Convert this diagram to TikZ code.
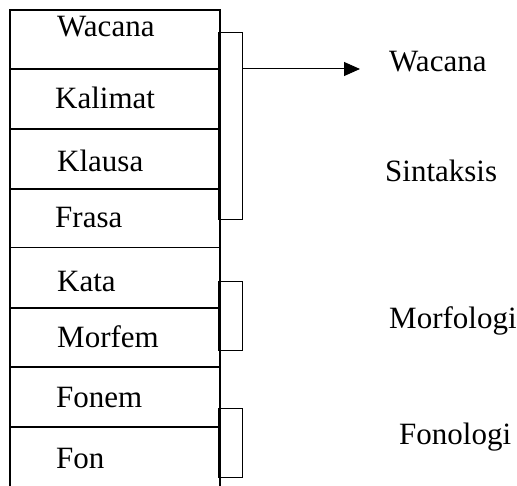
\documentclass[tikz,border=0pt]{standalone}
\usepackage{fontspec}
\setmainfont{Liberation Serif}
\usetikzlibrary{arrows.meta}
\begin{document}
\begin{tikzpicture}[x=1pt,y=-1pt,
  lbl/.style={anchor=base west,inner sep=0pt,font=\fontsize{31}{37}\selectfont},
  brk/.style={draw,line width=1.4pt,inner sep=0pt,minimum width=24pt,anchor=north west},
  frame/.style={line width=2.2pt}]
\useasboundingbox (0,0) rectangle (517,486);
% frame of the column
\coordinate (tl) at (10,10);
\coordinate (tr) at (220,10);
\coordinate (bl) at (10,486);
\coordinate (br) at (220,486);
\draw[frame] (bl) -- (tl) -- (tr) -- (br);
% dividers
\foreach \y/\w in {69/1.8pt,129/1.8pt,189/1.8pt,248/1pt,308/1.8pt,367/1.8pt,427/1.8pt}
  \draw[line width=\w] (10,\y) -- (220,\y);
% brackets
\node[brk,minimum height=187pt] (b1) at (218,32) {};
\node[brk,minimum height=69pt] (b2) at (218,281) {};
\node[brk,minimum height=69pt] (b3) at (218,408) {};
% left labels
\node[lbl] (wacana) at (57,37) {Wacana};
\node[lbl] (kalimat) at (55,109) {Kalimat};
\node[lbl] (klausa) at (57,172) {Klausa};
\node[lbl] (frasa) at (55,228) {Frasa};
\node[lbl] (kata) at (57,292) {Kata};
\node[lbl] (morfem) at (57,348) {Morfem};
\node[lbl] (fonem) at (56,407) {Fonem};
\node[lbl] (fon) at (56,468) {Fon};
% right labels
\node[lbl] (rwacana) at (389,72) {Wacana};
\node[lbl] (sintaksis) at (385,182) {Sintaksis};
\node[lbl] (morfologi) at (389,329) {Morfologi};
\node[lbl] (fonologi) at (399,444) {Fonologi};
% arrow
\coordinate (astart) at (b1.east |- 0,69);
\coordinate (aend) at (360,69);
\draw[line width=1pt,-{Triangle[length=16pt,width=14pt]}] (astart) -- (aend);
\end{tikzpicture}
\end{document}
